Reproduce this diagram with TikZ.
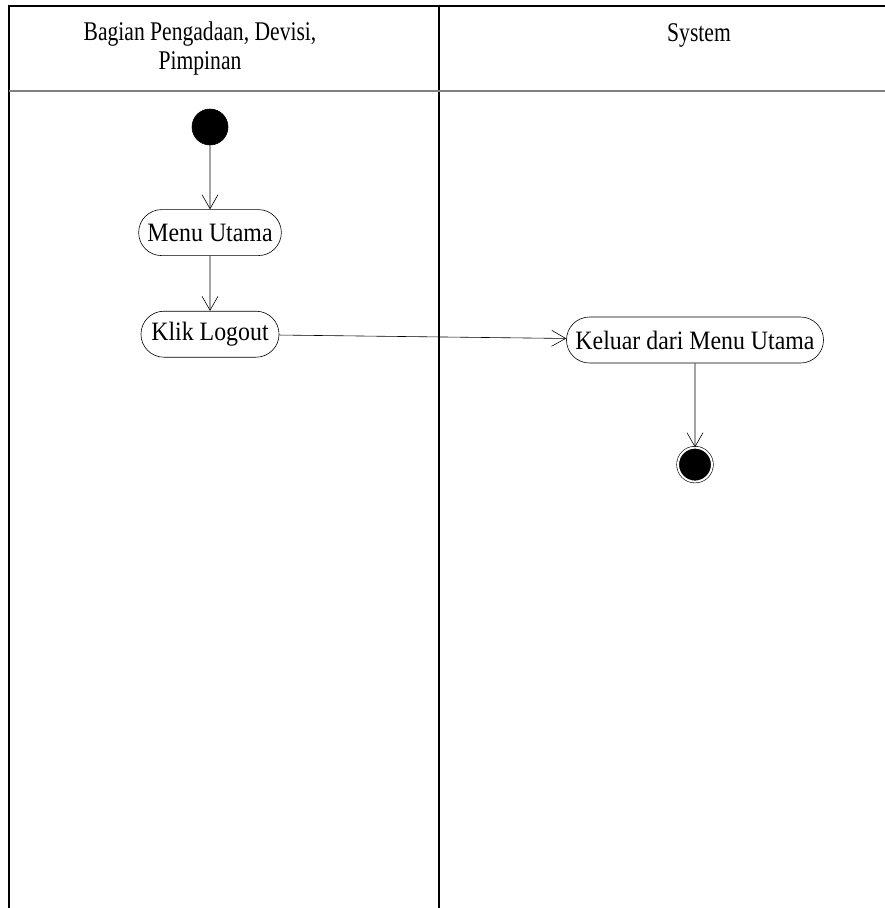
\documentclass[tikz,border=0pt]{standalone}
\usepackage{fontspec}
\setmainfont{Liberation Serif}
\newfontfamily\headfont[FakeStretch=0.8]{Liberation Serif}
\newfontfamily\actfont[FakeStretch=0.9]{Liberation Serif}
\usetikzlibrary{shapes.misc}
\usetikzlibrary{arrows.meta}
\usetikzlibrary{positioning}
\tikzstyle{activity} = [draw, rounded rectangle, fill=white,
    minimum height=46pt, inner xsep=7pt, font=\actfont\fontsize{26.5}{30}\selectfont]
\tikzstyle{initial} = [draw, circle, fill=black, minimum size=36pt, inner sep=0pt]
\tikzstyle{final} = [draw, circle, double, double distance=2pt, fill=black,
    minimum size=34pt, inner sep=0pt]
\tikzstyle{lane} = [line width=1.4pt]
\tikzstyle{header} = [align=center, font=\headfont\fontsize{27}{29}\selectfont]

\begin{document}
\begin{tikzpicture}[x=1pt, y=-1pt, node distance=2cm,
    >={Straight Barb[length=14pt,width=16pt]}, line width=0.6pt]
    \useasboundingbox (0,0) rectangle (885,908);
    % Swimlanes
    \draw [lane] (9,908) -- (9,6) -- (885,6);
    \draw [lane] (439,6) -- (439,908);
    \draw [lane, gray] (9,91) -- (885,91);
    \node [header] (lane1) at (200,49) {Bagian Pengadaan, Devisi,\\Pimpinan};
    \node [header] (lane2) at (699,35) {System};

    % We start by placing the activities
    \node [initial] (start) at (210,127) {};
    \node [activity, below=64pt of start] (menu) {Menu Utama};
    \node [activity, below=55pt of menu] (logout) {Klik Logout};
    \node [activity] (keluar) at (695,340) {Keluar dari Menu Utama};
    \node [final, below=84pt of keluar] (end) {};

    % Then the transitions
    \draw [->] (start) -- (menu);
    \draw [->] (menu) -- (logout);
    \draw [->] (logout) -- (keluar);
    \draw [->] (keluar) -- (end);
\end{tikzpicture}
\end{document}
